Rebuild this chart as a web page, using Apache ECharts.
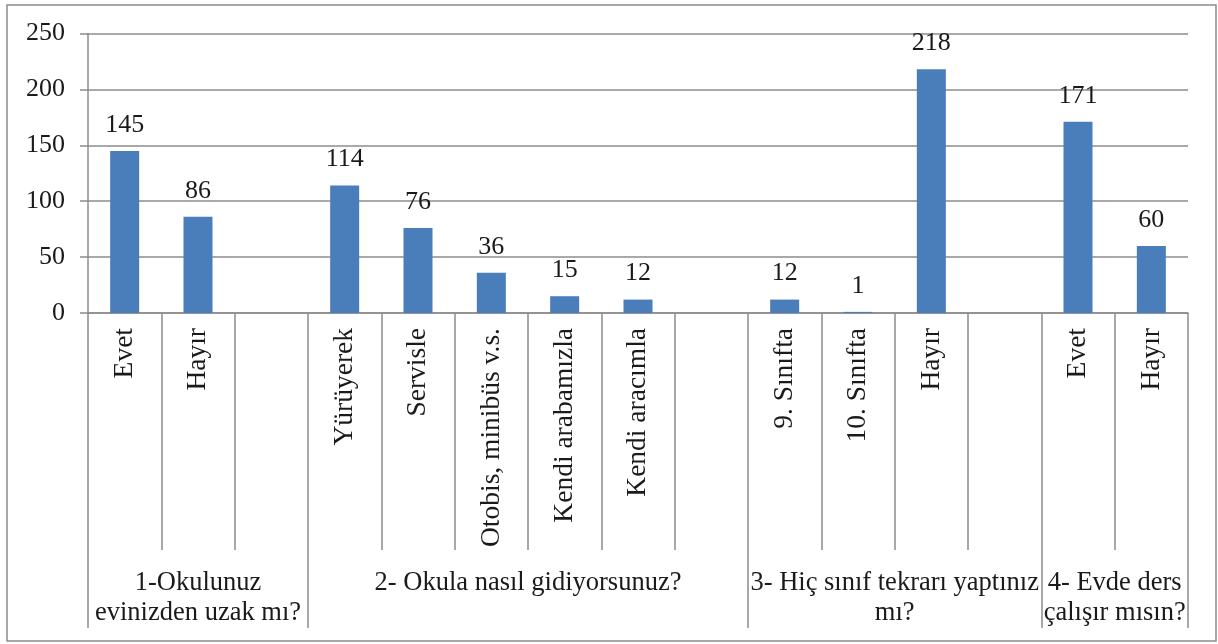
<!DOCTYPE html>
<html>
<head>
<meta charset="utf-8">
<script src="https://cdn.jsdelivr.net/npm/echarts@6/dist/echarts.min.js"></script>
<style>
  html, body { margin: 0; padding: 0; background: #fff; }
  #chart { width: 1218px; height: 644px; }
</style>
</head>
<body>
<div id="chart"></div>
<script>
// categories ('' = empty gap slot between question groups)
var categories = ['Evet', 'Hayır', '', 'Yürüyerek', 'Servisle', 'Otobis, minibüs v.s.',
  'Kendi arabamızla', 'Kendi aracımla', '', '9. Sınıfta', '10. Sınıfta', 'Hayır', '', 'Evet', 'Hayır']
var values = [145, 86, null, 114, 76, 36, 15, 12, null, 12, 1, 218, null, 171, 60]

// question groups and how many slots each one spans
var groupNames = ['1-Okulunuz\nevinizden uzak mı?', '2- Okula nasıl gidiyorsunuz?',
  '3- Hiç sınıf tekrarı yaptınız\nmı?', '4- Evde ders\nçalışır mısın?']
var groupSpans = [3, 6, 4, 2]

var yTicks = { min: 0, max: 250, interval: 50 }

var font = 'Liberation Serif, Times New Roman, serif'
var textColor = '#1a1a1a'
var lineColor = '#8c8c8c'

// half-slot points for the group axis: boundaries and centres
var halfPoints = []
for (var i = 0; i <= categories.length * 2; i++) halfPoints.push('')
var boundaryIdx = [0]
var pos = 0
groupSpans.forEach(function (span, k) {
  halfPoints[pos * 2 + span] = groupNames[k]
  pos += span
  boundaryIdx.push(pos * 2)
})

var myChart = echarts.init(document.getElementById('chart'))
var option = {
  animation: false,
  graphic: [{
    type: 'rect',
    shape: { x: 7, y: 5, width: 1209, height: 636 },
    style: { fill: 'none', stroke: lineColor, lineWidth: 1.5 }
  }],
  grid: {
    left: 88,
    right: 30,
    top: 33.5,
    bottom: 331
  },
  xAxis: [{
    type: 'category',
    data: categories,
    axisLine: { lineStyle: { color: lineColor, width: 1.5 } },
    axisTick: { show: true, interval: 0, length: 237, lineStyle: { color: lineColor, width: 1.5 } },
    axisLabel: {
      interval: 0,
      rotate: 90,
      margin: 15,
      fontSize: 27.5,
      fontFamily: font,
      color: textColor
    }
  }, {
    type: 'category',
    position: 'bottom',
    offset: 0,
    boundaryGap: false,
    data: halfPoints,
    axisLine: { show: false },
    axisTick: {
      show: true,
      length: 315,
      interval: function (idx) { return boundaryIdx.indexOf(idx) >= 0 },
      lineStyle: { color: lineColor, width: 1.5 }
    },
    axisLabel: {
      interval: 0,
      margin: 255,
      fontSize: 26.5,
      lineHeight: 30,
      align: 'center',
      fontFamily: font,
      color: textColor
    },
    splitLine: { show: false }
  }],
  yAxis: {
    type: 'value',
    min: yTicks.min,
    max: yTicks.max,
    interval: yTicks.interval,
    axisLine: { show: true, lineStyle: { color: lineColor, width: 1.5 } },
    axisTick: { show: true, length: 8, lineStyle: { color: lineColor, width: 1.5 } },
    splitLine: { lineStyle: { color: lineColor, width: 1.5 } },
    axisLabel: {
      margin: 23,
      fontSize: 26,
      fontFamily: font,
      color: textColor
    }
  },
  series: [{
    type: 'bar',
    data: values,
    barWidth: 29,
    itemStyle: { color: '#4a7ebb' },
    label: {
      show: true,
      position: 'top',
      distance: 13,
      fontSize: 26,
      fontFamily: font,
      color: textColor
    }
  }]
}
myChart.setOption(option)
</script>
</body>
</html>
